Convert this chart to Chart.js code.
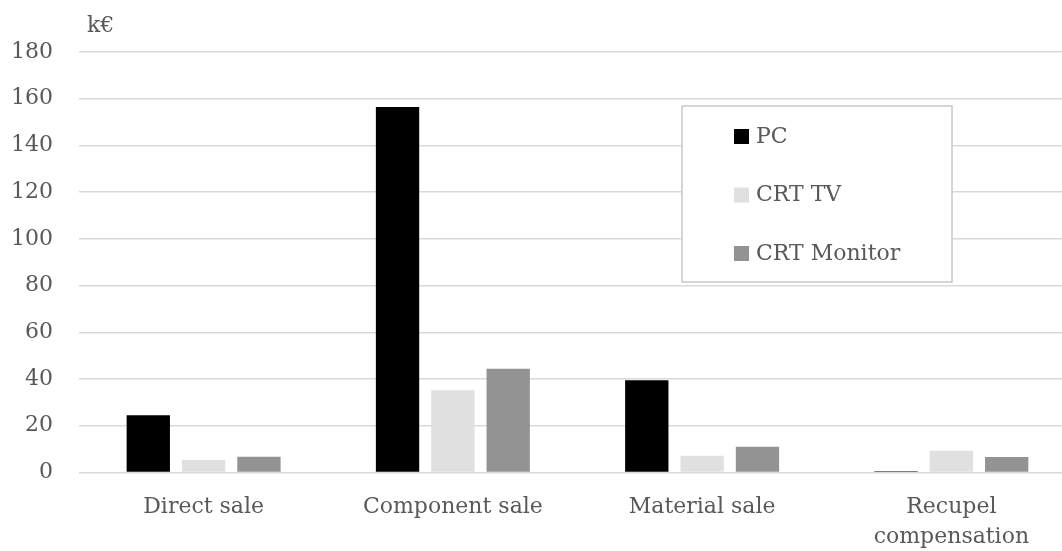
<!DOCTYPE html>
<html>
<head>
<meta charset="utf-8">
<script src="https://cdn.jsdelivr.net/npm/chart.js@4/dist/chart.umd.min.js"></script>
<style>
  html, body { margin: 0; padding: 0; background: #fff; overflow: hidden; }
  #wrap { position: relative; width: 1076px; height: 551px; }
</style>
</head>
<body>
<div id="wrap"><canvas id="myChart"></canvas></div>
<script>
const categories = ['Direct sale', 'Component sale', 'Material sale', ['Recupel', 'compensation']]
const pcValues = [24.5, 156.5, 39.5, 0.5]
const tvValues = [5.3, 35.2, 7.2, 9.3]
const monitorValues = [6.7, 44.4, 11, 6.6]
const seriesNames = ['PC', 'CRT TV', 'CRT Monitor']
const seriesColors = ['#000000', '#e0e0e0', '#939393']
const unitLabel = 'k€'

const fontFamily = '"DejaVu Serif", "Liberation Serif", serif'
const textColor = '#595959'

// axis unit above the value labels
const unitPlugin = {
  id: 'unitPlugin',
  afterDraw(chart) {
    const ctx = chart.ctx
    ctx.save()
    ctx.font = '22px ' + fontFamily
    ctx.fillStyle = textColor
    ctx.textBaseline = 'middle'
    ctx.fillText(unitLabel, chart.chartArea.left + 8, 26)
    ctx.restore()
  },
}

// boxed legend inside the plot area
const boxLegend = {
  id: 'boxLegend',
  afterDraw(chart) {
    const ctx = chart.ctx
    const x0 = 682, y0 = 106, w = 270, h = 176
    ctx.save()
    ctx.fillStyle = '#fff'
    ctx.fillRect(x0, y0, w, h)
    ctx.strokeStyle = '#c8c8c8'
    ctx.lineWidth = 1.5
    ctx.strokeRect(x0, y0, w, h)
    ctx.font = '22px ' + fontFamily
    ctx.textBaseline = 'middle'
    chart.data.datasets.forEach((ds, i) => {
      const cy = 136 + i * 58.5
      ctx.fillStyle = ds.backgroundColor
      ctx.fillRect(734, cy - 7, 15, 15)
      ctx.fillStyle = textColor
      ctx.fillText(ds.label, 756, cy + 1)
    })
    ctx.restore()
  },
}

const data = {
  labels: categories,
  datasets: [
    { label: seriesNames[0], data: pcValues, backgroundColor: seriesColors[0] },
    { label: seriesNames[1], data: tvValues, backgroundColor: seriesColors[1] },
    { label: seriesNames[2], data: monitorValues, backgroundColor: seriesColors[2] },
  ],
}

const config = {
  type: 'bar',
  data: data,
  options: {
    responsive: true,
    maintainAspectRatio: false,
    animation: false,
    layout: { padding: { top: 52, left: 0, right: 0, bottom: 0 } },
    datasets: {
      bar: { categoryPercentage: 0.666, barPercentage: 0.783 },
    },
    plugins: {
      legend: { display: false },
      tooltip: { enabled: false },
    },
    scales: {
      x: {
        grid: { display: false, drawTicks: false },
        border: { display: false },
        afterFit: (scale) => { scale.height = 78.5 },
        ticks: {
          color: textColor,
          padding: 20,
          maxRotation: 0,
          font: { family: fontFamily, size: 22, lineHeight: 1.36 },
        },
      },
      y: {
        min: 0,
        max: 180,
        grid: { color: '#d9d9d9', lineWidth: 1.5, drawTicks: false },
        border: { display: false },
        afterFit: (scale) => { scale.width = 79 },
        ticks: {
          stepSize: 20,
          color: textColor,
          padding: 26,
          font: { family: fontFamily, size: 22 },
        },
      },
    },
  },
  plugins: [unitPlugin, boxLegend],
}

var myChart = new Chart(document.getElementById('myChart'), config)
</script>
</body>
</html>
